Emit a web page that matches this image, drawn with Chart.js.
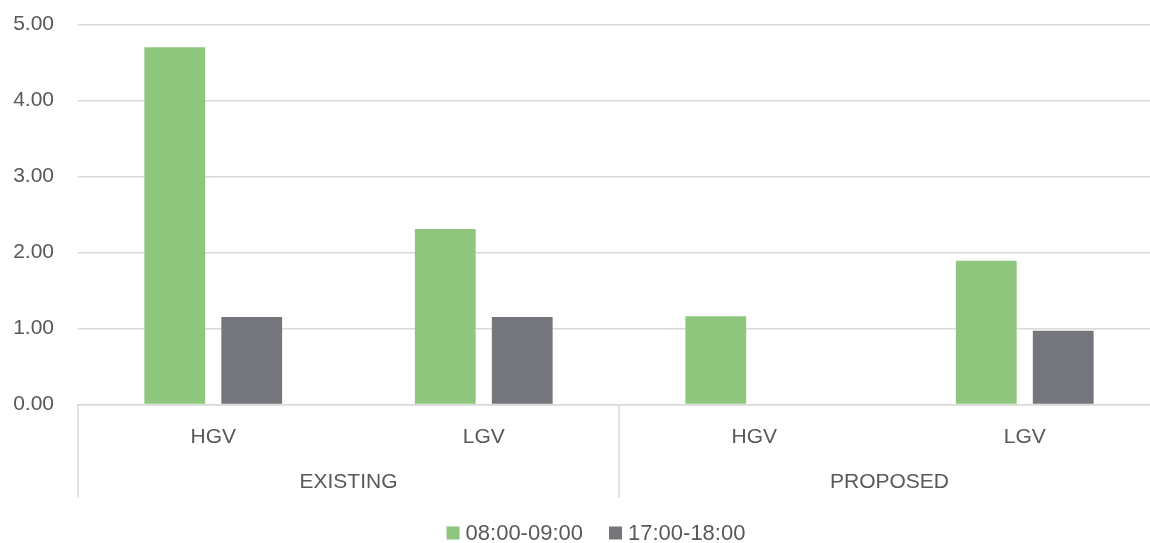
<!DOCTYPE html>
<html>
<head>
<meta charset="utf-8">
<script src="https://cdn.jsdelivr.net/npm/chart.js@4/dist/chart.umd.min.js"></script>
<style>
  html, body { margin: 0; padding: 0; background: #ffffff; overflow: hidden; }
  #wrap { width: 1150px; height: 543px; overflow: hidden; }
  canvas { display: block; }
</style>
</head>
<body>
<div id="wrap"><canvas id="c" width="1160" height="543"></canvas></div>
<script>
// Vehicle types (inner axis level) and scenario groups (outer axis level)
const categories = ['HGV', 'LGV', 'HGV', 'LGV'];
const groups = ['EXISTING', 'PROPOSED'];
const groupSpans = [[0, 1], [2, 3]];

// Peak hour series
const seriesLabels = ['08:00-09:00', '17:00-18:00'];
const amPeak = [4.70, 2.31, 1.16, 1.89];
const pmPeak = [1.15, 1.15, 0, 0.97];

// Value axis
const yMin = 0;
const yMax = 5;
const yStep = 1;

const GREEN = '#8dc67c';
const GREY = '#75767b';
const TEXT = '#595959';
const GRID = '#d9d9d9';
const FONT = '"Liberation Sans", Arial, sans-serif';

// Draws the outer group labels, the group separators and the legend
const groupAxisPlugin = {
  id: 'groupAxis',
  afterDraw(chart) {
    const ctx = chart.ctx;
    const x = chart.scales.x;
    const area = chart.chartArea;
    const half = (x.getPixelForValue(1) - x.getPixelForValue(0)) / 2;
    const lineBottom = area.bottom + 93;

    ctx.save();
    ctx.strokeStyle = GRID;
    ctx.lineWidth = 1.5;
    // separators at the left edge and after each group
    const edges = [x.getPixelForValue(0) - half];
    groupSpans.forEach(s => edges.push(x.getPixelForValue(s[1]) + half));
    edges.forEach(px => {
      ctx.beginPath();
      ctx.moveTo(px, area.bottom);
      ctx.lineTo(px, lineBottom);
      ctx.stroke();
    });

    ctx.fillStyle = TEXT;
    ctx.font = '21px ' + FONT;
    ctx.textAlign = 'center';
    ctx.textBaseline = 'middle';
    groups.forEach((g, i) => {
      const s = groupSpans[i];
      const cx = (x.getPixelForValue(s[0]) + x.getPixelForValue(s[1])) / 2;
      ctx.fillText(g, cx, area.bottom + 78);
    });

    // legend
    ctx.font = '22px ' + FONT;
    ctx.textAlign = 'left';
    const box = 13, boxGap = 6, itemGap = 26;
    const items = chart.data.datasets.map(d => ({
      label: d.label, color: d.backgroundColor, w: ctx.measureText(d.label).width
    }));
    const total = items.reduce((a, it) => a + box + boxGap + it.w, 0) + itemGap * (items.length - 1);
    let lx = 596 - total / 2;
    const ly = 533;
    items.forEach(it => {
      ctx.fillStyle = it.color;
      ctx.fillRect(lx, ly - box / 2, box, box);
      ctx.fillStyle = TEXT;
      ctx.fillText(it.label, lx + box + boxGap, ly + 1);
      lx += box + boxGap + it.w + itemGap;
    });
    ctx.restore();
  }
};

new Chart(document.getElementById('c'), {
  type: 'bar',
  data: {
    labels: categories,
    datasets: [
      { label: seriesLabels[0], data: amPeak, backgroundColor: GREEN, borderWidth: 0 },
      { label: seriesLabels[1], data: pmPeak, backgroundColor: GREY, borderWidth: 0 }
    ]
  },
  options: {
    responsive: false,
    animation: false,
    devicePixelRatio: 1,
    categoryPercentage: 0.569,
    barPercentage: 0.79,
    layout: { padding: { top: 24.5, bottom: 45.5, left: 0, right: 0 } },
    plugins: {
      legend: { display: false },
      tooltip: { enabled: false }
    },
    scales: {
      x: {
        grid: { display: false },
        border: { display: true, color: GRID, width: 1.5 },
        ticks: { color: TEXT, font: { family: FONT, size: 21 }, padding: 12, maxRotation: 0 },
        afterFit(scale) { scale.height = 93; }
      },
      y: {
        min: yMin,
        max: yMax,
        ticks: {
          stepSize: yStep,
          color: TEXT,
          font: { family: FONT, size: 21 },
          padding: 24,
          callback: v => Number(v).toFixed(2)
        },
        grid: { color: GRID, lineWidth: 1.5, drawTicks: false },
        border: { display: false },
        afterFit(scale) {
          scale.width = 78;
          scale.paddingTop = 0;
          scale.paddingBottom = 0;
        }
      }
    }
  },
  plugins: [groupAxisPlugin]
});
</script>
</body>
</html>
